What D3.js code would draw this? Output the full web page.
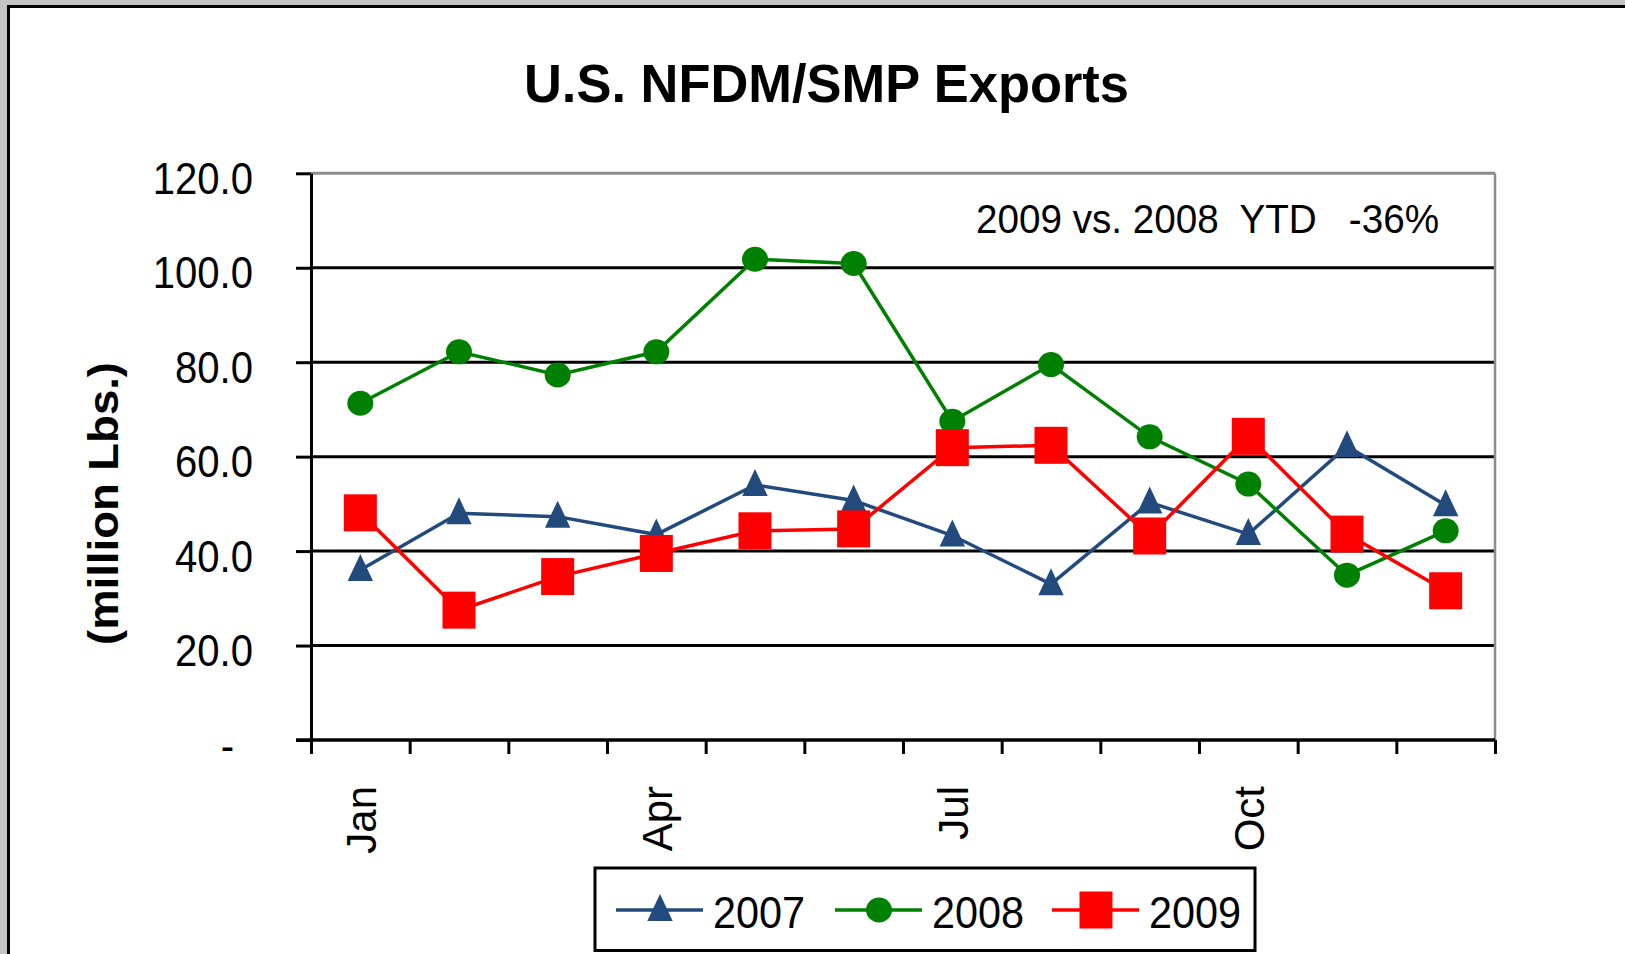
<!DOCTYPE html>
<html>
<head>
<meta charset="utf-8">
<script src="https://cdn.jsdelivr.net/npm/d3@7/dist/d3.min.js"></script>
<style>
  body { margin: 0; background: #fff; }
  svg text { font-family: "Liberation Sans", Arial, sans-serif; fill: #000; }
</style>
</head>
<body>
<svg id="chart" width="1625" height="954"></svg>
<script>
// Data (million lbs)
const months = ["Jan", "Feb", "Mar", "Apr", "May", "Jun", "Jul", "Aug", "Sep", "Oct", "Nov", "Dec"];
const monthLabels = ["Jan", "", "", "Apr", "", "", "Jul", "", "", "Oct", "", ""];
const years = ["2007", "2008", "2009"];
const exports2007 = [36.0, 48.0, 47.3, 43.5, 54.0, 50.7, 43.3, 33.0, 50.3, 43.6, 62.2, 49.7];
const exports2008 = [71.3, 82.2, 77.3, 82.2, 101.8, 100.9, 67.5, 79.5, 64.2, 54.2, 34.9, 44.3];
const exports2009 = [48.1, 27.5, 34.6, 39.5, 44.3, 44.7, 61.9, 62.4, 43.2, 64.3, 43.6, 31.6];
const yTicks = [0, 20, 40, 60, 80, 100, 120];
const titleText = "U.S. NFDM/SMP Exports";
const yTitle = "(million Lbs.)";
const noteText = "2009 vs. 2008  YTD   -36%";

const seriesValues = [exports2007, exports2008, exports2009];

// Styling
const colors = ["#234a7d", "#008000", "#ff0000"],
  shapes = ["triangle", "circle", "square"],
  lineWidth = 3.5,
  plot = { left: 311, right: 1495, top: 173.3, bottom: 740 };

const svg = d3.select("#chart");

// Compress text horizontally (the source chart is a bit narrow)
function squeeze(sel, k) {
  sel.each(function () {
    const w = this.getComputedTextLength();
    d3.select(this).attr("textLength", w * k).attr("lengthAdjust", "spacingAndGlyphs");
  });
}

// Outer frame
svg.append("rect").attr("width", 1625).attr("height", 954).attr("fill", "#c4c4c4");
svg.append("rect").attr("x", 8).attr("y", 6).attr("width", 1625).attr("height", 954).attr("fill", "#fff");
svg.append("path")
  .attr("d", "M8.5,954 V6.5 H1625")
  .attr("fill", "none")
  .attr("stroke", "#000")
  .attr("stroke-width", 3);

// Scales
const xBand = d3.scaleBand().domain(months).range([plot.left, plot.right]);
const xEdge = d3.scaleLinear().domain([0, months.length]).range([plot.left, plot.right]);
const yScale = d3.scaleLinear().domain([0, 120]).range([plot.bottom, plot.top]);
const xMid = m => xBand(m) + xBand.bandwidth() / 2;

// Title
svg.append("text")
  .attr("x", 826.5)
  .attr("y", 102)
  .attr("text-anchor", "middle")
  .attr("font-size", 54)
  .attr("font-weight", "bold")
  .attr("textLength", 605)
  .attr("lengthAdjust", "spacingAndGlyphs")
  .text(titleText);

// Gridlines
svg.append("g")
  .selectAll("line")
  .data(yTicks.filter(d => d > 0))
  .join("line")
  .attr("x1", plot.left)
  .attr("x2", plot.right)
  .attr("y1", d => yScale(d))
  .attr("y2", d => yScale(d))
  .attr("stroke", d => (d === 120 ? "#8c8c8c" : "#000"))
  .attr("stroke-width", 3);

// Right border of plot area
svg.append("line")
  .attr("x1", plot.right)
  .attr("x2", plot.right)
  .attr("y1", plot.top)
  .attr("y2", plot.bottom)
  .attr("stroke", "#8c8c8c")
  .attr("stroke-width", 2.5);

// Y axis
const yAxis = svg.append("g")
  .attr("transform", "translate(" + plot.left + ",0)")
  .call(d3.axisLeft(yScale).tickValues(yTicks).tickSize(15).tickSizeOuter(0)
    .tickFormat(d => (d === 0 ? "-" : d.toFixed(1))));
yAxis.select(".domain").attr("stroke", "#000").attr("stroke-width", 3);
yAxis.selectAll(".tick line").attr("stroke", "#000").attr("stroke-width", 3);
yAxis.selectAll(".tick text")
  .attr("font-size", 44)
  .attr("font-family", null)
  .attr("dy", null)
  .attr("y", 20)
  .attr("x", d => (d === 0 ? -77 : -58))
  .call(squeeze, 0.91);

// Y title
svg.append("text")
  .attr("transform", "translate(118,503.5) rotate(-90)")
  .attr("text-anchor", "middle")
  .attr("font-size", 43)
  .attr("font-weight", "bold")
  .attr("textLength", 283)
  .attr("lengthAdjust", "spacingAndGlyphs")
  .text(yTitle);

// X axis ticks at category edges
const xAxis = svg.append("g")
  .attr("transform", "translate(0," + plot.bottom + ")")
  .call(d3.axisBottom(xEdge).tickValues(d3.range(months.length + 1)).tickSize(14).tickSizeOuter(0).tickFormat(""));
xAxis.select(".domain").attr("stroke", "#000").attr("stroke-width", 3.5).attr("d", "M296,0H" + plot.right);
xAxis.selectAll(".tick line").attr("stroke", "#000").attr("stroke-width", 3);

// X labels (rotated)
svg.append("g")
  .selectAll("text")
  .data(months.map((m, i) => ({ m: m, label: monthLabels[i] })).filter(d => d.label))
  .join("text")
  .attr("transform", d => "translate(" + (xMid(d.m) + 15.5) + ",786) rotate(-90)")
  .attr("text-anchor", "end")
  .attr("font-size", 42)
  .text(d => d.label);

// Note
svg.append("text")
  .attr("x", 976)
  .attr("y", 233)
  .attr("font-size", 41)
  .attr("textLength", 463)
  .attr("lengthAdjust", "spacingAndGlyphs")
  .style("white-space", "pre")
  .text(noteText);

// Markers
function drawMarker(g, shape, color) {
  if (shape === "triangle") {
    g.append("path").attr("d", "M0,-16L12.7,11L-12.7,11Z").attr("fill", color);
  } else if (shape === "circle") {
    g.append("ellipse").attr("rx", 13).attr("ry", 12.5).attr("fill", color);
  } else {
    g.append("rect").attr("x", -16.5).attr("y", -18.5).attr("width", 33).attr("height", 37).attr("fill", color);
  }
}

const line = d3.line()
  .x((d, i) => xMid(months[i]))
  .y(d => yScale(d));

seriesValues.forEach((values, s) => {
  const g = svg.append("g");
  g.append("path")
    .datum(values)
    .attr("fill", "none")
    .attr("stroke", colors[s])
    .attr("stroke-width", lineWidth)
    .attr("d", line);
  values.forEach((v, i) => {
    const mg = g.append("g").attr("transform", "translate(" + xMid(months[i]) + "," + yScale(v) + ")");
    drawMarker(mg, shapes[s], colors[s]);
  });
});

// Legend
const legend = svg.append("g");
legend.append("rect")
  .attr("x", 595)
  .attr("y", 868)
  .attr("width", 660)
  .attr("height", 82.5)
  .attr("fill", "#fff")
  .attr("stroke", "#000")
  .attr("stroke-width", 3);

const legendX = [616, 835, 1052];
years.forEach((yr, s) => {
  const x0 = legendX[s];
  legend.append("line")
    .attr("x1", x0)
    .attr("x2", x0 + 87)
    .attr("y1", 910)
    .attr("y2", 910)
    .attr("stroke", colors[s])
    .attr("stroke-width", lineWidth);
  const mg = legend.append("g").attr("transform", "translate(" + (x0 + 44) + ",910)");
  drawMarker(mg, shapes[s], colors[s]);
  legend.append("text")
    .attr("x", x0 + 97)
    .attr("y", 928)
    .attr("font-size", 44)
    .text(yr)
    .call(squeeze, 0.94);
});
</script>
</body>
</html>
